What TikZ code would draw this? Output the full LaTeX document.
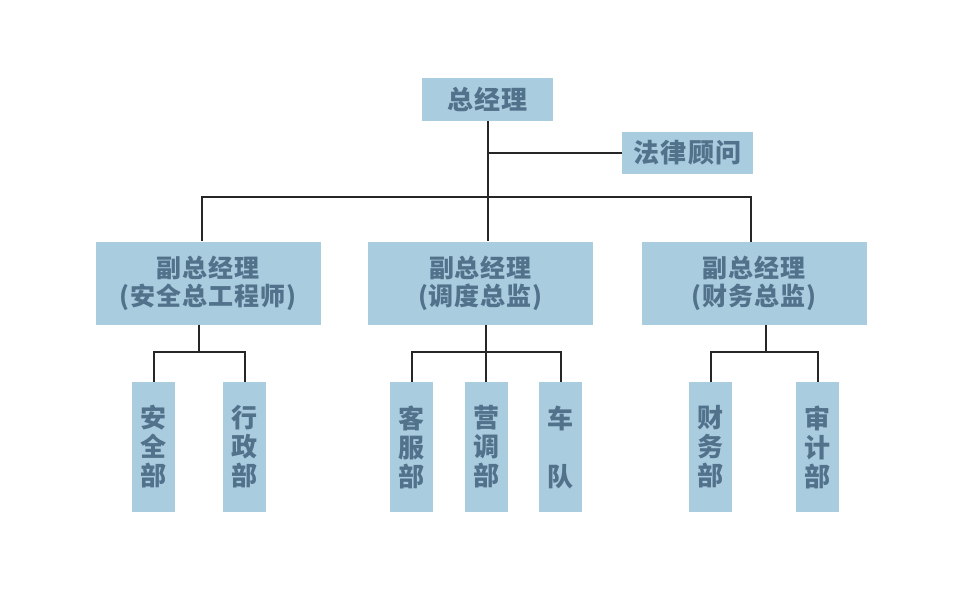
\documentclass[tikz,border=0pt]{standalone}
\usepackage{fontspec}
\usepackage{xcolor}
\newfontfamily\cjk{Noto Sans CJK SC Black}[LetterSpace=4]
\definecolor{boxblue}{HTML}{A9CCDF}
\definecolor{boxtext}{HTML}{52718B}
\definecolor{linegray}{HTML}{262626}

\begin{document}
\begin{tikzpicture}[x=1pt,y=-1pt]
\tikzset{every node/.style={inner sep=0pt,align=center,text=boxtext,font=\cjk}}
\tikzset{box/.style={fill=boxblue,minimum width=#1}}
\tikzset{topbox/.style={box=131pt,minimum height=43pt,font=\cjk\fontsize{26}{28}\selectfont}}
\tikzset{vpbox/.style={box=225pt,minimum height=83pt,font=\cjk\fontsize{25}{28}\selectfont}}
\tikzset{deptbox/.style={box=43pt,minimum height=130pt,font=\cjk\fontsize{26}{29}\selectfont}}
\tikzset{link/.style={draw=linegray,line width=2pt}}

\useasboundingbox (0,0) rectangle (964,590);

\node[topbox] (gm) at (487.5,99.5) {总经理};
\node[topbox,minimum height=42pt] (legal) at (687.5,153) {法律顾问};

\node[vpbox] (vp1) at (208,283) {副总经理\\(安全总工程师)};
\node[vpbox] (vp2) at (480.5,283) {副总经理\\(调度总监)};
\node[vpbox] (vp3) at (754,283.5) {副总经理\\(财务总监)};

\node[deptbox] (d11) at (153.5,447) {安\\全\\部};
\node[deptbox] (d12) at (244.5,447) {行\\政\\部};
\node[deptbox] (d21) at (411.5,447) {客\\服\\部};
\node[deptbox] (d22) at (486,447) {营\\调\\部};
\node[deptbox] (d23) at (560.5,447) {车\\\\队};
\node[deptbox] (d31) at (710.5,447) {财\\务\\部};
\node[deptbox] (d32) at (817.5,447) {审\\计\\部};

% top level
\coordinate (b0) at (487.5,197);
\draw[link] (gm.south) -- (gm.south |- vp2.north);
\draw[link] (gm.south |- legal.west) -- (legal.west);
\draw[link] ([xshift=-6pt]vp1.north) |- (b0) -| ([xshift=-3pt]vp3.north);

% departments
\coordinate (j1) at (199,352);
\coordinate (j2) at (486,352);
\coordinate (j3) at (766,352);
\draw[link] (vp1.south -| j1) -- (j1);
\draw[link] (d11.north) |- (j1) -| (d12.north);
\draw[link] (vp2.south -| j2) -- (d22.north);
\draw[link] (d21.north) |- (j2) -| (d23.north);
\draw[link] (vp3.south -| j3) -- (j3);
\draw[link] (d31.north) |- (j3) -| (d32.north);

\end{tikzpicture}
\end{document}
